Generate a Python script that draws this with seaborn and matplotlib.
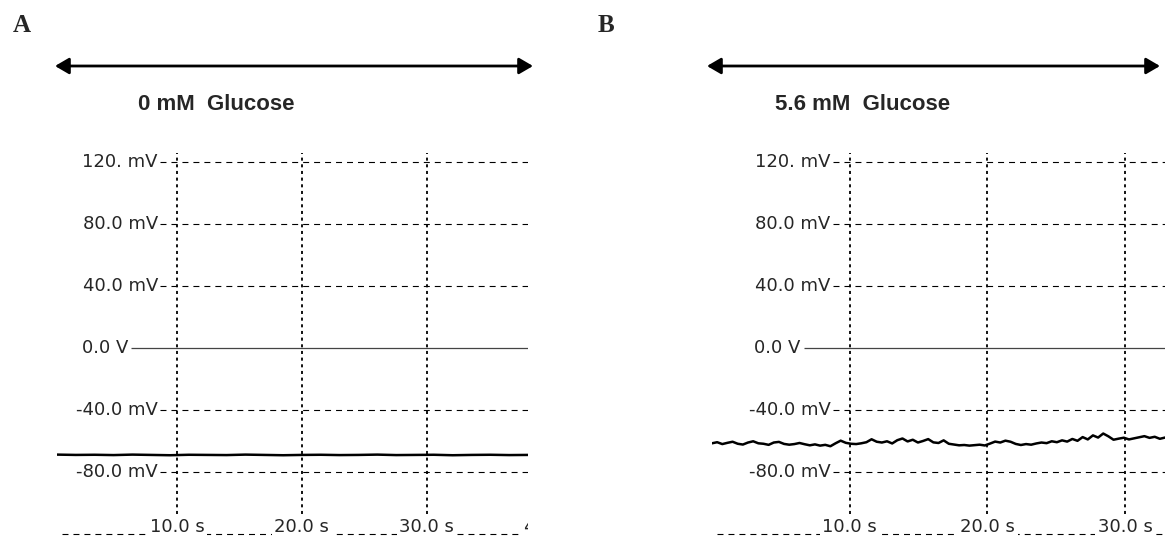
import numpy as np
import pandas as pd
import seaborn as sns
import matplotlib
matplotlib.use("Agg")
from matplotlib import pyplot as plt

# membrane potential (mV)
volt_0mM = [-68.8, -69.0, -68.9, -69.1, -68.8, -69.0, -69.2, -68.9, -69.0, -69.1,
            -68.8, -69.0, -69.2, -69.0, -68.9, -69.1, -69.0, -68.8, -69.1, -69.0,
            -68.9, -69.2, -69.0, -68.9, -69.1, -69.0]
volt_5mM = [-61.5, -60.8, -62.0, -61.2, -60.5, -61.8, -62.3, -61.0, -60.2, -61.5,
            -61.8, -62.5, -61.0, -60.6, -61.9, -62.4, -62.0, -61.3, -62.1, -62.8,
            -62.2, -63.0, -62.5, -63.4,
            -61.5, -59.8, -61.2, -61.8, -62.0, -61.5, -60.8, -58.9, -60.5, -61.0,
            -60.2, -61.6, -59.5, -58.4, -60.3, -59.2, -61.0, -60.0, -58.8, -60.9,
            -61.3, -59.6, -61.8,
            -62.3, -62.8, -62.6, -63.0, -62.7, -62.4, -62.9, -61.7,
            -60.4, -61.0, -59.8, -60.5, -61.9, -62.6, -62.0, -62.4, -61.6, -61.0,
            -61.4, -60.2,
            -60.8, -59.6, -60.4, -58.7, -59.9, -57.5, -59.0, -56.4, -57.8, -55.2,
            -57.0,
            -59.2, -58.5, -57.9, -59.0, -58.3, -57.6, -56.9, -58.0, -57.3, -58.6,
            -57.8]
# visible time window of each recording (s)
window_0mM = (0.4, 38.1)
window_5mM = (0.0, 32.9)

ytick_vals = [120, 80, 40, 0, -40, -80]
ytick_labels = ["120. mV", "80.0 mV", "40.0 mV", "0.0 V", "-40.0 mV", "-80.0 mV"]
xtick_vals = [10, 20, 30, 40]
xtick_labels = ["10.0 s", "20.0 s", "30.0 s", "40.0 s"]
panel_titles = ["0 mM  Glucose", "5.6 mM  Glucose"]
panel_letters = ["A", "B"]

sns.set_style("white")
plt.rcParams["font.family"] = ["DejaVu Sans"]
plt.rcParams["lines.scale_dashes"] = False

W, H = 1165, 536
fig = plt.figure(figsize=(W / 100, H / 100), dpi=100)


def px_box(x0, x1, y0, y1):
    # pixel box (top-left origin) -> figure fraction
    return [x0 / W, 1 - y1 / H, (x1 - x0) / W, (y1 - y0) / H]


Y_LIM = (-121.3, 127.7)
H_DASH = (0, (4.3, 3.6))
V_DASH = (0, (2.2, 2.6))
LABEL_KW = dict(fontsize=13, color="#262626")


def draw_panel(ax, volts, window):
    t = np.linspace(window[0], window[1], len(volts))
    df = pd.DataFrame({"time": t, "mV": volts})
    ax.set_xlim(*window)
    ax.set_ylim(*Y_LIM)
    ax.set_axis_off()
    px_per_s = ax.get_position().width * W / (window[1] - window[0])
    first = xtick_vals[0]
    lab_x = first - 19 / px_per_s
    grid_x = first - 17 / px_per_s
    zero_lab_x = first - 49 / px_per_s
    zero_x = first - 46 / px_per_s

    # vertical grid
    ax.vlines(xtick_vals, -120, 126, colors="black", linewidth=1.3, linestyles=[V_DASH])
    # horizontal grid + labels
    for v, lab in zip(ytick_vals, ytick_labels):
        if v == 0:
            ax.hlines(0, zero_x, window[1], colors="#444444", linewidth=0.9)
            ax.text(zero_lab_x, v, lab, ha="right", va="center", **LABEL_KW)
        else:
            ax.hlines(v, grid_x, window[1], colors="black", linewidth=0.8, linestyles=[H_DASH])
            ax.text(lab_x, v, lab, ha="right", va="center", **LABEL_KW)
    # bottom time line with labels sitting on it
    ax.hlines(-119.8, window[0] + 5 / px_per_s, window[1], colors="black",
              linewidth=0.8, linestyles=[H_DASH])
    for xv, lab in zip(xtick_vals, xtick_labels):
        if (xv - window[1]) * px_per_s > 30:
            continue  # entirely off the recording window
        ax.text(xv, -115.2, lab, ha="center", va="center", clip_on=True,
                bbox=dict(facecolor="white", edgecolor="none", pad=2), **LABEL_KW)

    sns.lineplot(data=df, x="time", y="mV", ax=ax, color="black", linewidth=1.8,
                 estimator=None, zorder=5)


axA = fig.add_axes(px_box(57, 528, 150, 536))
draw_panel(axA, volt_0mM, window_0mM)
axB = fig.add_axes(px_box(712, 1165, 150, 536))
draw_panel(axB, volt_5mM, window_5mM)

# panel letters, titles and the bath-application arrows
for letter, x in zip(panel_letters, [22, 606]):
    fig.text(x / W, 1 - 26 / H, letter, ha="center", va="center", fontsize=18,
             fontweight="bold", family="Liberation Serif")
for title, x in zip(panel_titles, [216, 863]):
    fig.text(x / W, 1 - 104 / H, title, ha="center", va="center", fontsize=16,
             fontweight="bold", family="Liberation Sans")
for x0, x1 in [(55, 533), (707, 1160)]:
    axA.annotate("", xy=(x1, H - 66), xytext=(x0, H - 66), xycoords="figure pixels",
                 textcoords="figure pixels",
                 arrowprops=dict(arrowstyle="<|-|>,head_length=0.6,head_width=0.35",
                                 lw=2, color="black", mutation_scale=14,
                                 shrinkA=0, shrinkB=0))

fig.savefig("out.png", dpi=100)
